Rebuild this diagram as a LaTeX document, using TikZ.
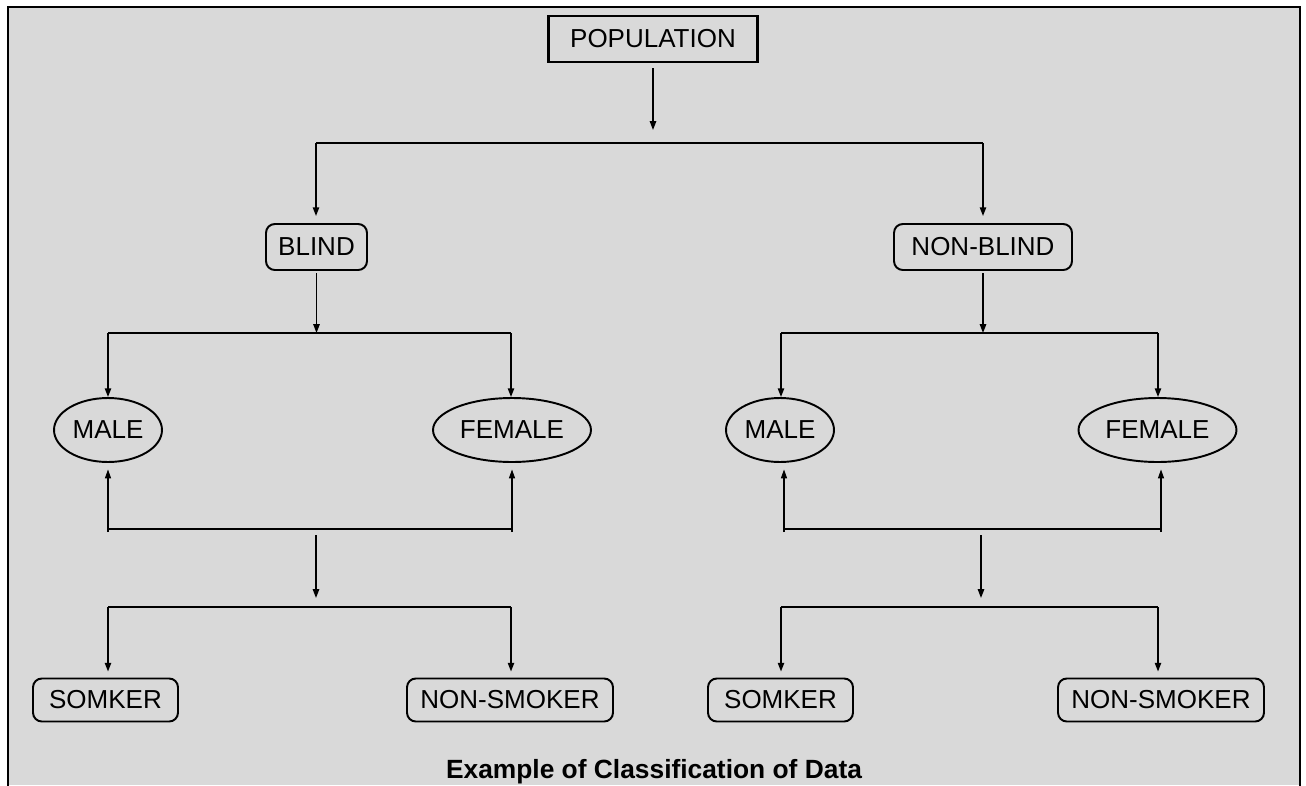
\documentclass[tikz,border=0pt]{standalone}
\usepackage{fontspec}
\setmainfont{Liberation Sans}
\usepackage{tikz}
\usetikzlibrary{positioning,shapes.geometric,arrows.meta}
\definecolor{bggray}{RGB}{217,217,217}
\begin{document}
\begin{tikzpicture}[x=0.02cm,y=-0.02cm,
                    every node/.style={font=\fontsize{14.8}{17}\selectfont,inner sep=0pt},
                    rbox/.style={draw,rounded corners=5pt,line width=1.1pt,minimum height=0.9cm},
                    sbox/.style={draw,line width=1.4pt,minimum height=0.92cm},
                    oval/.style={draw,ellipse,line width=1.1pt,minimum height=1.28cm},
                    bus/.style={line width=1.6pt},
                    arr/.style={line width=0.85pt,-{Triangle[length=5pt,width=3.6pt]}},
                    uparr/.style={line width=0.6pt,-{Triangle[length=5pt,width=3.4pt]}}]
  \useasboundingbox (0,0) rectangle (1306,785);
  \fill[bggray] (8,7) rectangle (1300,785);
  \draw[line width=1.4pt] (8,790) -- (8,7) -- (1300,7) -- (1300,790);

  \node[sbox,minimum width=4.18cm] (pop) at (653,39) {POPULATION};
  \node[rbox,minimum width=2.02cm,minimum height=0.92cm] (blind) at (316.5,247) {BLIND};
  \node[rbox,minimum width=3.56cm,minimum height=0.92cm] (nblind) at (983,247) {NON-BLIND};
  \node[oval,minimum width=2.16cm] (male1) at (108,430) {MALE};
  \node[oval,minimum width=3.16cm] (female1) at (512,430) {FEMALE};
  \node[oval,minimum width=2.16cm] (male2) at (780,430) {MALE};
  \node[oval,minimum width=3.16cm] (female2) at (1157.5,430) {FEMALE};
  \node[rbox,minimum width=2.9cm,minimum height=0.86cm] (smk1) at (105.5,700) {SOMKER};
  \node[rbox,minimum width=4.12cm,minimum height=0.86cm] (nsmk1) at (510,700) {NON-SMOKER};
  \node[rbox,minimum width=2.9cm,minimum height=0.86cm] (smk2) at (780.5,700) {SOMKER};
  \node[rbox,minimum width=4.12cm,minimum height=0.86cm] (nsmk2) at (1161,700) {NON-SMOKER};
  \node[font=\fontsize{15}{18}\selectfont\bfseries] (title) at (654,772) {Example of Classification of Data};

  \coordinate (b1l) at (316,143);   \coordinate (b1r) at (983,143);
  \coordinate (b2l) at (108,333);   \coordinate (b2r) at (511,333);
  \coordinate (b3l) at (108,529);   \coordinate (b3r) at (512,529);
  \coordinate (b4l) at (108,607);   \coordinate (b4r) at (511,607);
  \coordinate (c2l) at (781,333);   \coordinate (c2r) at (1158,333);
  \coordinate (c3l) at (784,529);   \coordinate (c3r) at (1161,529);
  \coordinate (c4l) at (781,607);   \coordinate (c4r) at (1158,607);
  \coordinate (m1) at (316,529);    \coordinate (m2) at (981,529);

  \draw[bus] (b1l) -- (b1r) (b2l) -- (b2r) (b3l) -- (b3r) (b4l) -- (b4r)
             (c2l) -- (c2r) (c3l) -- (c3r) (c4l) -- (c4r);

  \draw[arr,shorten <=0.1cm,shorten >=0.26cm] (pop) -- (pop |- b1l);
  \draw[arr,shorten >=0.14cm] (b1l) -- (b1l |- blind.north);
  \draw[arr,shorten >=0.14cm] (b1r) -- (b1r |- nblind.north);
  \draw[arr,shorten <=0.05cm] (blind) -- (blind |- b2l);
  \draw[arr,shorten <=0.05cm] (nblind) -- (nblind |- c2l);
  \draw[arr] (b2l) -- (b2l |- male1.north);
  \draw[arr] (b2r) -- (b2r |- female1.north);
  \draw[arr] (c2l) -- (c2l |- male2.north);
  \draw[arr] (c2r) -- (c2r |- female2.north);
  \draw[uparr,shorten <=-0.06cm,shorten >=0.13cm] (b3l) -- (b3l |- male1.south);
  \draw[uparr,shorten <=-0.06cm,shorten >=0.13cm] (b3r) -- (b3r |- female1.south);
  \draw[uparr,shorten <=-0.06cm,shorten >=0.13cm] (c3l) -- (c3l |- male2.south);
  \draw[uparr,shorten <=-0.06cm,shorten >=0.13cm] (c3r) -- (c3r |- female2.south);
  \draw[arr,shorten <=0.12cm,shorten >=0.18cm] (m1) -- (m1 |- b4l);
  \draw[arr,shorten <=0.12cm,shorten >=0.18cm] (m2) -- (m2 |- c4l);
  \draw[arr,shorten >=0.12cm] (b4l) -- (b4l |- smk1.north);
  \draw[arr,shorten >=0.12cm] (b4r) -- (b4r |- nsmk1.north);
  \draw[arr,shorten >=0.12cm] (c4l) -- (c4l |- smk2.north);
  \draw[arr,shorten >=0.12cm] (c4r) -- (c4r |- nsmk2.north);
\end{tikzpicture}
\end{document}
